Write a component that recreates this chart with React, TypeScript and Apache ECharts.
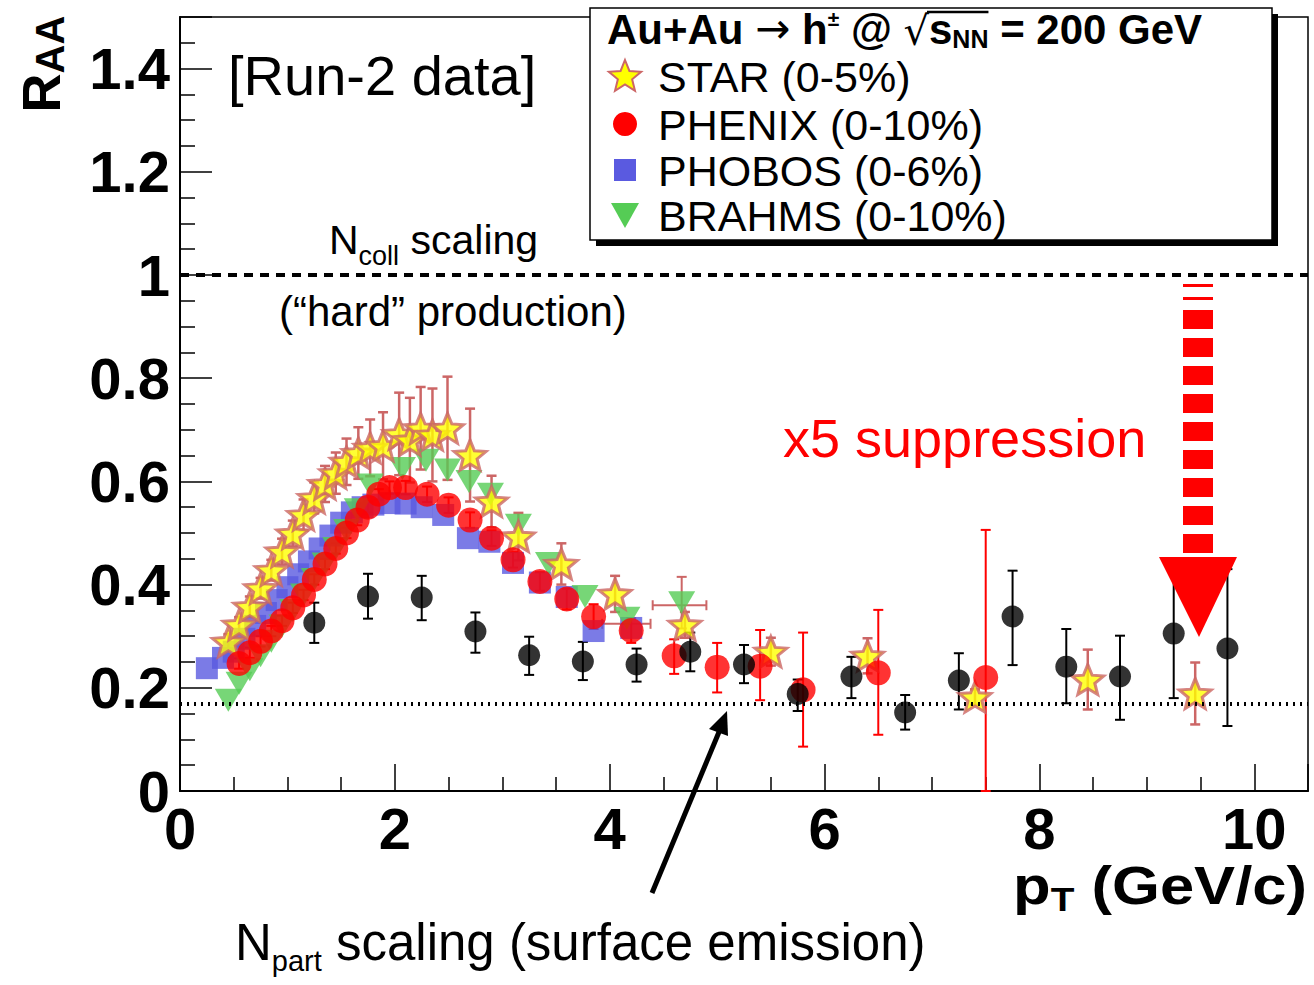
import React, { useEffect, useRef } from "react";
import * as echarts from "echarts";

const FONT = "'Liberation Sans', Arial, Helvetica, sans-serif";

// STAR (0-5%)
const starX = [0.45, 0.55, 0.65, 0.75, 0.85, 0.95, 1.05, 1.15, 1.25, 1.35, 1.45, 1.55, 1.66, 1.77, 1.89, 2.04, 2.14, 2.24, 2.35, 2.49, 2.7, 2.9, 3.15, 3.55, 4.05, 4.7, 5.5, 6.4, 7.4, 8.45, 9.45];
const starY = [0.289, 0.322, 0.357, 0.393, 0.428, 0.464, 0.499, 0.535, 0.568, 0.595, 0.616, 0.638, 0.655, 0.665, 0.669, 0.692, 0.68, 0.703, 0.69, 0.703, 0.651, 0.561, 0.493, 0.44, 0.382, 0.322, 0.27, 0.262, 0.182, 0.216, 0.189];
const starErr = [0.015, 0.015, 0.02, 0.02, 0.02, 0.025, 0.025, 0.03, 0.03, 0.035, 0.04, 0.045, 0.05, 0.055, 0.065, 0.08, 0.082, 0.08, 0.09, 0.1, 0.09, 0.05, 0.046, 0.04, 0.035, 0.025, 0.027, 0.034, 0.015, 0.058, 0.06];

// PHENIX (0-10%)
const phenixX = [0.55, 0.65, 0.75, 0.85, 0.95, 1.05, 1.15, 1.25, 1.35, 1.45, 1.55, 1.65, 1.75, 1.85, 1.95, 2.1, 2.3, 2.5, 2.7, 2.9, 3.1, 3.35, 3.6, 3.85, 4.2, 4.6, 5.0, 5.4, 5.8, 6.5, 7.5];
const phenixY = [0.247, 0.268, 0.29, 0.31, 0.33, 0.355, 0.38, 0.41, 0.44, 0.47, 0.5, 0.525, 0.55, 0.575, 0.588, 0.588, 0.575, 0.554, 0.525, 0.49, 0.448, 0.406, 0.372, 0.338, 0.311, 0.262, 0.24, 0.242, 0.196, 0.229, 0.22];
const phenixLo = [0.237, 0.258, 0.28, 0.3, 0.32, 0.345, 0.37, 0.4, 0.43, 0.46, 0.49, 0.515, 0.54, 0.565, 0.576, 0.575, 0.56, 0.539, 0.51, 0.475, 0.433, 0.388, 0.352, 0.314, 0.287, 0.227, 0.191, 0.176, 0.086, 0.109, 0.0];
const phenixHi = [0.257, 0.278, 0.3, 0.32, 0.34, 0.365, 0.39, 0.42, 0.45, 0.48, 0.51, 0.535, 0.56, 0.585, 0.6, 0.601, 0.59, 0.569, 0.54, 0.505, 0.463, 0.424, 0.392, 0.362, 0.335, 0.294, 0.287, 0.312, 0.307, 0.351, 0.506];

// PHOBOS (0-6%)
const phobosX = [0.25, 0.4, 0.5, 0.6, 0.7, 0.8, 0.9, 1.0, 1.1, 1.2, 1.3, 1.4, 1.5, 1.6, 1.7, 1.8, 1.95, 2.1, 2.25, 2.45, 2.68, 2.88, 3.1, 3.35, 3.6, 3.85, 4.2];
const phobosY = [0.238, 0.258, 0.27, 0.295, 0.32, 0.345, 0.37, 0.395, 0.42, 0.445, 0.47, 0.495, 0.52, 0.54, 0.55, 0.555, 0.558, 0.557, 0.55, 0.535, 0.49, 0.483, 0.442, 0.404, 0.376, 0.31, 0.316];

// BRAHMS (0-10%)
const brahmsX = [0.45, 0.55, 0.65, 0.75, 0.85, 0.95, 1.05, 1.15, 1.25, 1.35, 1.45, 1.55, 1.65, 1.77, 2.07, 2.29, 2.49, 2.69, 2.89, 3.15, 3.43, 3.77, 4.16, 4.67];
const brahmsY = [0.176, 0.209, 0.235, 0.262, 0.29, 0.32, 0.35, 0.38, 0.41, 0.44, 0.47, 0.505, 0.545, 0.593, 0.625, 0.641, 0.622, 0.6, 0.575, 0.515, 0.441, 0.377, 0.335, 0.365];
// BRAHMS horizontal / vertical error bars visible at high pT
const brahmsXErrLo = [3.93, 4.4];
const brahmsXErrHi = [4.38, 4.9];
const brahmsXErrY = [0.324, 0.36];
const brahmsYErrX = [4.67];
const brahmsYErrLo = [0.315];
const brahmsYErrHi = [0.415];

// Run-2 data (black)
const run2X = [1.25, 1.75, 2.25, 2.75, 3.25, 3.75, 4.25, 4.75, 5.25, 5.75, 6.25, 6.75, 7.25, 7.75, 8.25, 8.75, 9.25, 9.75];
const run2Y = [0.326, 0.377, 0.375, 0.309, 0.263, 0.251, 0.245, 0.27, 0.245, 0.188, 0.222, 0.152, 0.214, 0.338, 0.241, 0.222, 0.305, 0.276];
const run2Lo = [0.287, 0.334, 0.331, 0.268, 0.225, 0.215, 0.212, 0.232, 0.209, 0.155, 0.18, 0.119, 0.158, 0.244, 0.17, 0.138, 0.18, 0.126];
const run2Hi = [0.365, 0.421, 0.417, 0.346, 0.299, 0.289, 0.276, 0.307, 0.283, 0.216, 0.26, 0.186, 0.267, 0.427, 0.314, 0.301, 0.43, 0.43];

const NCOLL_LEVEL = 1.0;
const NPART_LEVEL = 0.17;

const xTicks = { min: 0, max: 10.5, interval: 2 };
const yTicks = { min: 0, max: 1.5, interval: 0.2 };

const legendLabels = ["STAR (0-5%)", "PHENIX (0-10%)", "PHOBOS (0-6%)", "BRAHMS (0-10%)"];

const STAR_PATH =
  "path://M50,0 L62.93,32.2 L97.55,34.55 L70.92,56.8 L79.39,90.45 L50,72 L20.61,90.45 L29.08,56.8 L2.45,34.55 L37.07,32.2 Z";

const ROSY = "#cc6666";

function starPoints(cx: number, cy: number, R: number, r: number) {
  const pts: number[][] = [];
  for (let k = 0; k < 10; k++) {
    const a = (-90 + k * 36) * (Math.PI / 180);
    const rad = k % 2 === 0 ? R : r;
    pts.push([cx + rad * Math.cos(a), cy + rad * Math.sin(a)]);
  }
  return pts;
}

let measureCtx: CanvasRenderingContext2D | null = null;
function measure(text: string, font: string) {
  if (!measureCtx) measureCtx = document.createElement("canvas").getContext("2d");
  if (!measureCtx) return text.length * 20;
  measureCtx.font = font;
  return measureCtx.measureText(text).width;
}

function vErrSeries(xs: number[], lo: number[], hi: number[], color: string, width: number, cap: number) {
  return {
    type: "custom",
    silent: true,
    data: xs.map((x, i) => [x, lo[i], hi[i]]),
    encode: { x: 0, y: [1, 2] },
    renderItem: (_p: any, api: any) => {
      const x = api.value(0);
      const a = api.coord([x, api.value(1)]);
      const b = api.coord([x, api.value(2)]);
      const st = { stroke: color, lineWidth: width };
      return {
        type: "group",
        children: [
          { type: "line", shape: { x1: a[0], y1: a[1], x2: b[0], y2: b[1] }, style: st },
          { type: "line", shape: { x1: a[0] - cap, y1: a[1], x2: a[0] + cap, y2: a[1] }, style: st },
          { type: "line", shape: { x1: b[0] - cap, y1: b[1], x2: b[0] + cap, y2: b[1] }, style: st },
        ],
      };
    },
  };
}

function hErrSeries(lo: number[], hi: number[], ys: number[], color: string, width: number, cap: number) {
  return {
    type: "custom",
    silent: true,
    data: ys.map((y, i) => [lo[i], hi[i], y]),
    encode: { x: [0, 1], y: 2 },
    renderItem: (_p: any, api: any) => {
      const y = api.value(2);
      const a = api.coord([api.value(0), y]);
      const b = api.coord([api.value(1), y]);
      const st = { stroke: color, lineWidth: width };
      return {
        type: "group",
        children: [
          { type: "line", shape: { x1: a[0], y1: a[1], x2: b[0], y2: b[1] }, style: st },
          { type: "line", shape: { x1: a[0], y1: a[1] - cap, x2: a[0], y2: a[1] + cap }, style: st },
          { type: "line", shape: { x1: b[0], y1: b[1] - cap, x2: b[0], y2: b[1] + cap }, style: st },
        ],
      };
    },
  };
}

function buildTitle(x0: number, yMid: number): any[] {
  const bold = `bold 42px ${FONT}`;
  const arrowFont = `42px 'DejaVu Sans', sans-serif`;
  const supFont = `bold 21px ${FONT}`;
  const subFont = `bold 25px ${FONT}`;
  const radFont = `40px 'DejaVu Sans', sans-serif`;
  const parts: { t: string; f: string; dy: number }[] = [
    { t: "Au+Au ", f: bold, dy: 0 },
    { t: "→", f: arrowFont, dy: -1 },
    { t: " h", f: bold, dy: 0 },
    { t: "±", f: supFont, dy: -11 },
    { t: " @ ", f: bold, dy: 0 },
    { t: "√", f: radFont, dy: 2 },
    { t: "s", f: bold, dy: 0 },
    { t: "NN", f: subFont, dy: 10 },
    { t: " = 200 GeV", f: bold, dy: 0 },
  ];
  const out: any[] = [];
  let x = x0;
  let radStart = 0;
  let radEnd = 0;
  parts.forEach((p) => {
    const w = measure(p.t, p.f);
    out.push({
      type: "text", x, y: yMid + p.dy, z: 102,
      style: { text: p.t, font: p.f, fill: "#000", textVerticalAlign: "middle", verticalAlign: "middle" },
    });
    if (p.t === "√") radStart = x + w - 2;
    if (p.t === "NN") radEnd = x + w;
    x += w;
  });
  out.push({ type: "line", z: 102, shape: { x1: radStart, y1: 12, x2: radEnd, y2: 12 }, style: { stroke: "#000", lineWidth: 2.5 } });
  return out;
}

export default function App() {
  const ref = useRef<HTMLDivElement>(null);
  useEffect(() => {
    if (!ref.current) return;
    const chart = echarts.init(ref.current, null, { renderer: "svg" });

    const rowY = [76, 124, 170, 215];

    const graphic: any[] = [
      // legend box with shadow
      { type: "rect", shape: { x: 596, y: 14, width: 682, height: 232 }, style: { fill: "#000" }, z: 100 },
      { type: "rect", shape: { x: 590, y: 8, width: 682, height: 232 }, style: { fill: "#fff", stroke: "#000", lineWidth: 1.5 }, z: 101 },
      ...buildTitle(607, 29),
      ...legendLabels.map((label, i) => ({
        type: "text", x: 658, y: rowY[i] + 1, z: 102,
        style: { text: label, fill: "#000", font: `43px ${FONT}`, textVerticalAlign: "middle", verticalAlign: "middle" },
      })),
      { type: "polygon", z: 102, shape: { points: starPoints(625, 77, 17, 7.5) }, style: { fill: "#ffff00", stroke: ROSY, lineWidth: 2 } },
      { type: "circle", z: 102, shape: { cx: 625, cy: 124, r: 12 }, style: { fill: "#ff0000" } },
      { type: "rect", z: 102, shape: { x: 614, y: 159, width: 22, height: 22 }, style: { fill: "#5a5ae0" } },
      { type: "polygon", z: 102, shape: { points: [[611, 203], [639, 203], [625, 228]] }, style: { fill: "#55cc55" } },

      // annotations
      { type: "text", x: 228, y: 75, z: 50, style: { text: "[Run-2 data]", fill: "#000", font: `56px ${FONT}`, textVerticalAlign: "middle", verticalAlign: "middle" } },
      {
        type: "text", x: 329, y: 244, z: 50,
        style: {
          text: "{m|N}{s|coll}{m| scaling}", fill: "#000", textVerticalAlign: "middle", verticalAlign: "middle",
          rich: {
            m: { fontFamily: FONT, fontSize: 41, lineHeight: 50, verticalAlign: "top" },
            s: { fontFamily: FONT, fontSize: 27, lineHeight: 27, verticalAlign: "bottom" },
          },
        },
      },
      { type: "text", x: 279, y: 311, z: 50, style: { text: "(“hard” production)", fill: "#000", font: `42px ${FONT}`, textVerticalAlign: "middle", verticalAlign: "middle" } },
      { type: "text", x: 783, y: 438, z: 50, style: { text: "x5 suppression", fill: "#ff0000", font: `54px ${FONT}`, textVerticalAlign: "middle", verticalAlign: "middle" } },
      {
        type: "text", x: 235, y: 946, z: 50,
        style: {
          text: "{m|N}{s|part}{m| scaling (surface emission)}", fill: "#000", textVerticalAlign: "middle", verticalAlign: "middle",
          rich: {
            m: { fontFamily: FONT, fontSize: 51, lineHeight: 58, verticalAlign: "top" },
            s: { fontFamily: FONT, fontSize: 29, lineHeight: 29, verticalAlign: "bottom" },
          },
        },
      },
      // axis titles
      {
        type: "text", x: 1307, y: 887, z: 50, scaleX: 1.14,
        style: {
          text: "{m|p}{s|T}{m| (GeV/c)}", fill: "#000", textAlign: "right", align: "right", textVerticalAlign: "middle", verticalAlign: "middle",
          rich: {
            m: { fontFamily: FONT, fontWeight: "bold", fontSize: 54, lineHeight: 58, verticalAlign: "top" },
            s: { fontFamily: FONT, fontWeight: "bold", fontSize: 34, lineHeight: 30, verticalAlign: "bottom" },
          },
        },
      },
      {
        type: "text", x: 42, y: 64, rotation: Math.PI / 2, z: 50,
        style: {
          text: "{m|R}{s|AA}", fill: "#000", textAlign: "center", align: "center", textVerticalAlign: "middle", verticalAlign: "middle",
          rich: {
            m: { fontFamily: FONT, fontWeight: "bold", fontSize: 54, lineHeight: 56, verticalAlign: "top" },
            s: { fontFamily: FONT, fontWeight: "bold", fontSize: 40, lineHeight: 34, verticalAlign: "bottom" },
          },
        },
      },
      // black arrow
      { type: "line", z: 50, shape: { x1: 652, y1: 893, x2: 719, y2: 732 }, style: { stroke: "#000", lineWidth: 5 } },
      { type: "polygon", z: 50, shape: { points: [[727, 711], [728, 736], [709, 729]] }, style: { fill: "#000" } },
      // red dashed arrow
      { type: "line", z: 50, shape: { x1: 1198, y1: 284, x2: 1198, y2: 300 }, style: { stroke: "#ff0000", lineWidth: 30, lineDash: [3, 10] } },
      { type: "line", z: 50, shape: { x1: 1198, y1: 310, x2: 1198, y2: 558 }, style: { stroke: "#ff0000", lineWidth: 30, lineDash: [19, 9] } },
      { type: "polygon", z: 50, shape: { points: [[1159, 557], [1237, 557], [1199, 637]] }, style: { fill: "#ff0000" } },
    ];

    const option: any = {
      animation: false,
      backgroundColor: "#fff",
      grid: { left: 180, right: 6, top: 17, bottom: 194, show: true, borderColor: "#000", borderWidth: 1.5, backgroundColor: "transparent" },
      xAxis: {
        type: "value",
        min: xTicks.min, max: xTicks.max, interval: xTicks.interval,
        axisLine: { show: true, lineStyle: { color: "#000", width: 2 } },
        axisTick: { show: true, inside: true, length: 27, lineStyle: { color: "#000", width: 1.5 } },
        minorTick: { show: true, splitNumber: 4, length: 14, lineStyle: { color: "#000", width: 1.5 } },
        splitLine: { show: false },
        axisLabel: { showMaxLabel: false, fontSize: 58, fontWeight: "bold", fontFamily: FONT, color: "#000", margin: 8 },
      },
      yAxis: {
        type: "value",
        min: yTicks.min, max: yTicks.max, interval: yTicks.interval,
        axisLine: { show: true, lineStyle: { color: "#000", width: 2 } },
        axisTick: { show: true, inside: true, length: 32, lineStyle: { color: "#000", width: 1.5 } },
        minorTick: { show: true, splitNumber: 4, length: 15, lineStyle: { color: "#000", width: 1.5 } },
        splitLine: { show: false },
        axisLabel: {
          showMaxLabel: false, fontSize: 58, fontWeight: "bold", fontFamily: FONT, color: "#000", margin: 10,
          formatter: (v: number) => String(Number(v.toFixed(1))),
        },
      },
      graphic,
      series: [
        {
          type: "scatter", name: "PHOBOS", symbol: "rect", symbolSize: 22,
          itemStyle: { color: "#5a5ae0" },
          data: phobosX.map((x, i) => [x, phobosY[i]]),
          markLine: {
            silent: true, symbol: "none", label: { show: false },
            data: [
              { yAxis: NCOLL_LEVEL, lineStyle: { type: [9, 7], width: 4, color: "#000" } },
              { yAxis: NPART_LEVEL, lineStyle: { type: [2, 5], width: 4, color: "#000" } },
            ],
          },
        },
        hErrSeries(brahmsXErrLo, brahmsXErrHi, brahmsXErrY, ROSY, 2, 5),
        vErrSeries(brahmsYErrX, brahmsYErrLo, brahmsYErrHi, ROSY, 2, 5),
        {
          type: "scatter", name: "BRAHMS", symbol: "triangle", symbolRotate: 180, symbolSize: [27, 23],
          itemStyle: { color: "#55cc55" },
          data: brahmsX.map((x, i) => [x, brahmsY[i]]),
        },
        vErrSeries(starX, starX.map((_, i) => starY[i] - starErr[i]), starX.map((_, i) => starY[i] + starErr[i]), ROSY, 2.5, 5),
        {
          type: "scatter", name: "STAR", symbol: STAR_PATH, symbolSize: [32, 30],
          itemStyle: { color: "#ffff00", borderColor: ROSY, borderWidth: 3 },
          data: starX.map((x, i) => [x, starY[i]]),
        },
        vErrSeries(phenixX, phenixLo, phenixHi, "#ff0000", 2, 5),
        {
          type: "scatter", name: "PHENIX", symbol: "circle", symbolSize: 25,
          itemStyle: { color: "#ff0000" },
          data: phenixX.map((x, i) => [x, phenixY[i]]),
        },
        vErrSeries(run2X, run2Lo, run2Hi, "#000", 2, 5),
        {
          type: "scatter", name: "Run-2", symbol: "circle", symbolSize: 22,
          itemStyle: { color: "#000" },
          data: run2X.map((x, i) => [x, run2Y[i]]),
        },
      ],
    };
    chart.setOption(option);
    return () => chart.dispose();
  }, []);
  return <div ref={ref} style={{ position: "fixed", left: 0, top: 0, width: 1314, height: 985, background: "#fff" }} />;
}
